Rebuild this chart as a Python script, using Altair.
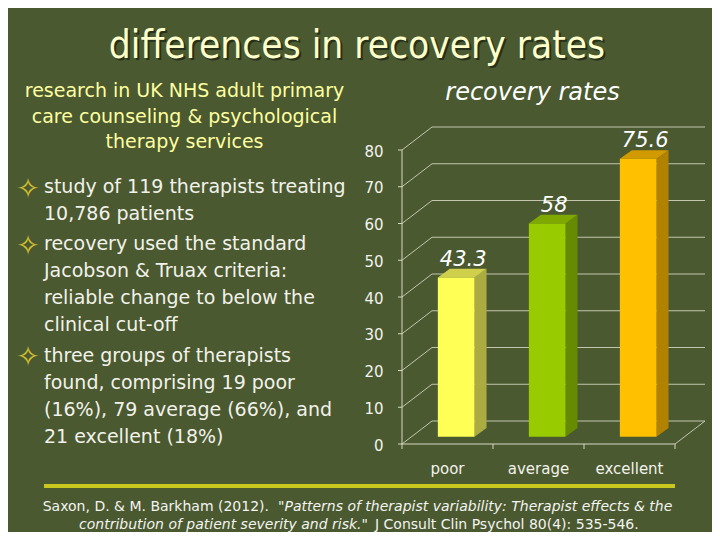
import altair as alt
import pandas as pd

# ------------------------------------------------------------------ data
categories = ["poor", "average", "excellent"]
rates = [43.3, 58, 75.6]
rate_labels = ["43.3", "58", "75.6"]
y_ticks = [0, 10, 20, 30, 40, 50, 60, 70, 80]

title_text = "differences in recovery rates"
intro_lines = [
    "research in UK NHS adult primary",
    "care counseling & psychological",
    "therapy services",
]
bullets = [
    ["study of 119 therapists treating", "10,786 patients"],
    ["recovery used the standard", "Jacobson & Truax criteria:",
     "reliable change to below the", "clinical cut-off"],
    ["three groups of therapists", "found, comprising 19 poor",
     "(16%), 79 average (66%), and", "21 excellent (18%)"],
]
bullet_glyph = "\u2727"
chart_title = "recovery rates"
cite_1 = ["Saxon, D. & M. Barkham (2012).",
          "\"Patterns of therapist variability: Therapist effects & the"]
cite_2 = ["contribution of patient severity and risk.\"",
          "J Consult Clin Psychol 80(4): 535-546."]

# ------------------------------------------------------------------ style
BG = "#4a5930"
FONT = "DejaVu Sans"
FONT_C = "DejaVu Sans Condensed, DejaVu Sans"
front_colors = ["#FFFF55", "#99CC00", "#FFC000"]
side_colors = ["#ABAB42", "#668A00", "#B08200"]
top_colors = ["#CFCF4C", "#7FA800", "#D19A00"]
GRID = "#D8D8C4"

W, H = 704, 524
X0, X1 = 394, 667          # front floor edge (px)
Y0, Y1 = 436, 142          # front axis 0 .. 80 (px)
WALL_DX, WALL_DY = 30, -23  # depth of the back wall
BAR_OX, BAR_OY = 8.7, -7.3  # bars sit inside the depth
BAR_W = 36.7
BAR_DX, BAR_DY = 12, 8.7   # bar depth

n = len(categories)
ymin, ymax = min(y_ticks), max(y_ticks)
slot_px = (X1 - X0) / n
unit_px = (Y0 - Y1) / (ymax - ymin)
HW = BAR_W / 2 / slot_px
SDX = BAR_DX / slot_px
SDY = BAR_DY / unit_px

XS = alt.Scale(domain=[0, n], range=[X0, X1], nice=False, zero=False)
YS = alt.Scale(domain=[ymin, ymax], range=[Y0, Y1], nice=False, zero=False)


def qx(f):
    return alt.X(f, type="quantitative", scale=XS, axis=None)


def qy(f):
    return alt.Y(f, type="quantitative", scale=YS, axis=None)


def col(rng):
    return alt.Color("cat:N", scale=alt.Scale(domain=categories, range=rng), legend=None)


# ------------------------------------------------------------------ tables
bars = pd.DataFrame({"cat": categories, "v": rates, "lab": rate_labels})
bars["c"] = [i + 0.5 for i in range(n)]
bars["x0"] = bars["c"] - HW
bars["x1"] = bars["c"] + HW
bars["zero"] = 0.0

side_rows, top_rows = [], []
for cat, v, c in zip(categories, rates, bars["c"]):
    side_rows += [
        {"cat": cat, "x": c + HW, "y": v, "y2": 0.0},
        {"cat": cat, "x": c + HW + SDX, "y": v + SDY, "y2": SDY},
    ]
    top_rows += [
        {"cat": cat, "x": c - HW, "y": v, "y2": v},
        {"cat": cat, "x": c - HW + SDX, "y": v + SDY, "y2": v},
        {"cat": cat, "x": c + HW, "y": v + SDY, "y2": v},
        {"cat": cat, "x": c + HW + SDX, "y": v + SDY, "y2": v + SDY},
    ]
side = pd.DataFrame(side_rows)
top = pd.DataFrame(top_rows)

ticks = pd.DataFrame({"t": y_ticks})
ticks["a"] = 0
ticks["b"] = n
ticks["lab"] = [str(t) for t in y_ticks]
bounds = pd.DataFrame({"b": list(range(n + 1))})
bounds["z"] = ymin
corner = pd.DataFrame({"x": [n], "y": [ymin]})
axis_df = pd.DataFrame({"x": [0], "y": [ymin], "y2": [ymax], "x2": [n]})

one = pd.DataFrame({"k": [0]})

layers = []

# back wall grid lines and depth diagonals
layers.append(alt.Chart(ticks).mark_rule(
    color=GRID, strokeWidth=1, opacity=0.85,
    xOffset=WALL_DX, x2Offset=WALL_DX, yOffset=WALL_DY)
    .encode(x=qx("a"), x2=alt.X2("b"), y=qy("t")))
layers.append(alt.Chart(ticks).mark_rule(
    color=GRID, strokeWidth=1, opacity=0.85, x2Offset=WALL_DX, y2Offset=WALL_DY)
    .encode(x=qx("a"), x2=alt.X2("a"), y=qy("t"), y2=alt.Y2("t")))
layers.append(alt.Chart(corner).mark_rule(
    color=GRID, strokeWidth=1, opacity=0.85, x2Offset=WALL_DX, y2Offset=WALL_DY)
    .encode(x=qx("x"), x2=alt.X2("x"), y=qy("y"), y2=alt.Y2("y")))
# front axis lines
layers.append(alt.Chart(axis_df).mark_rule(color=GRID, strokeWidth=1)
              .encode(x=qx("x"), y=qy("y"), y2=alt.Y2("y2")))
layers.append(alt.Chart(axis_df).mark_rule(color=GRID, strokeWidth=1)
              .encode(x=qx("x"), x2=alt.X2("x2"), y=qy("y")))
layers.append(alt.Chart(ticks).mark_rule(color=GRID, strokeWidth=1, xOffset=-4)
              .encode(x=qx("a"), x2=alt.X2("a"), y=qy("t")))
layers.append(alt.Chart(bounds).mark_rule(color=GRID, strokeWidth=1, y2Offset=5)
              .encode(x=qx("b"), y=qy("z"), y2=alt.Y2("z")))

# bars: side, top, front
layers.append(alt.Chart(side).mark_area(xOffset=BAR_OX, yOffset=BAR_OY, y2Offset=BAR_OY,
                                        interpolate="linear")
              .encode(x=qx("x"), y=qy("y"), y2=alt.Y2("y2"), detail="cat:N",
                      color=col(side_colors)))
layers.append(alt.Chart(top).mark_area(xOffset=BAR_OX, yOffset=BAR_OY, y2Offset=BAR_OY,
                                       interpolate="linear")
              .encode(x=qx("x"), y=qy("y"), y2=alt.Y2("y2"), detail="cat:N",
                      color=col(top_colors)))
layers.append(alt.Chart(bars).mark_bar(xOffset=BAR_OX, x2Offset=BAR_OX,
                                       yOffset=BAR_OY, y2Offset=BAR_OY)
              .encode(x=qx("x0"), x2=alt.X2("x1"), y=qy("v"), y2=alt.Y2("zero"),
                      color=col(front_colors)))

# value labels
layers.append(alt.Chart(bars).mark_text(
    font=FONT, fontSize=21, fontStyle="italic", color="#FFFFFF",
    align="center", baseline="alphabetic", dx=BAR_OX + 7, dy=BAR_OY - 12)
    .encode(x=qx("c"), y=qy("v"), text="lab:N"))
# category labels
layers.append(alt.Chart(bars).mark_text(
    font=FONT, fontSize=15, color="#F2F2EC", align="center",
    baseline="alphabetic", dy=30)
    .encode(x=qx("c"), y=qy("zero"), text="cat:N"))
# y tick labels
layers.append(alt.Chart(ticks).mark_text(
    font=FONT, fontSize=15, color="#F2F2EC", align="right",
    baseline="middle", dx=-18.5, dy=1.5)
    .encode(x=qx("a"), y=qy("t"), text="lab:N"))


def txt(s, x, y, size, color, align="left", italic=False, font=FONT):
    return alt.Chart(one).mark_text(
        font=font, fontSize=size, color=color, align=align, baseline="alphabetic",
        fontStyle="italic" if italic else "normal"
    ).encode(x=alt.value(x), y=alt.value(y), text=alt.value(s))


# title with shadow
layers.append(txt(title_text, 351, 52, 38.5, "#26301A", "center", font=FONT_C))
layers.append(txt(title_text, 349, 50, 38.5, "#FFFFCC", "center", font=FONT_C))

# intro text
for k, s in enumerate(intro_lines):
    layers.append(txt(s, 176.5, 88.7 + 25.8 * k, 19, "#FFFFA0", "center"))

# bullets
starts = [185.3, 242, 353.7]
for b, y0 in zip(bullets, starts):
    layers.append(txt(bullet_glyph, 20, y0 + 4.5, 28, "#D4C030", "center"))
    for k, s in enumerate(b):
        layers.append(txt(s, 36, y0 + 27 * k, 19, "#F2F2EA"))

# chart title
layers.append(txt(chart_title, 524.5, 92, 24, "#FFFFFF", "center", italic=True))

# citation rule and text
CITE = "#F4F4F0"
layers.append(alt.Chart(one).mark_rule(color="#C8C81E", strokeWidth=4)
              .encode(x=alt.value(36), x2=alt.value(667), y=alt.value(478)))
layers.append(txt(cite_1[0], 261, 502.7, 14, CITE, "right"))
layers.append(txt(cite_1[1], 270, 502.7, 14, CITE, "left", True))
layers.append(txt(cite_2[0], 360, 520.5, 14, CITE, "right", True))
layers.append(txt(cite_2[1], 367, 520.5, 14, CITE, "left"))

chart = alt.layer(*layers).resolve_scale(color="independent").properties(
    width=W, height=H, background=BG, padding=0,
    autosize=alt.AutoSizeParams(type="none"),
).configure_view(stroke=None)

chart.save("out.html", embed_options={"renderer": "svg", "actions": False})
